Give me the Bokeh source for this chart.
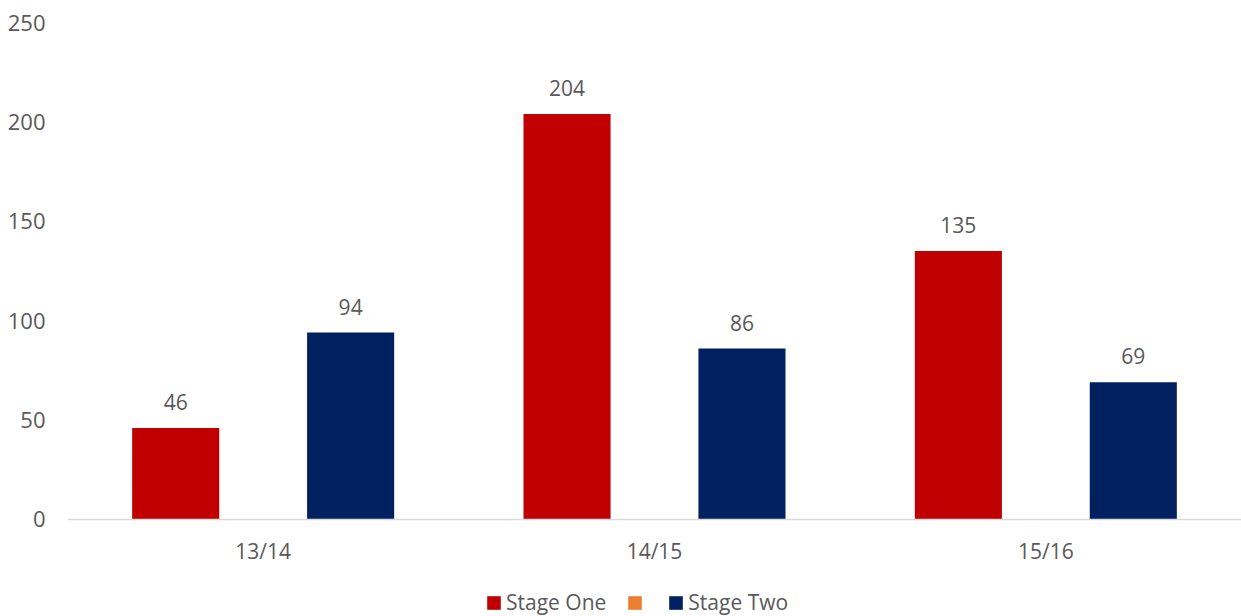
from bokeh.plotting import figure
from bokeh.models import ColumnDataSource, FactorRange, Range1d, Legend, LegendItem, SingleIntervalTicker
from bokeh.transform import dodge
from bokeh.core.properties import value
from bokeh.embed import file_html
from bokeh.resources import INLINE

categories = ["13/14", "14/15", "15/16"]
stage_one = [46, 204, 135]
stage_mid = [float("nan"), float("nan"), float("nan")]  # unnamed series with no values
stage_two = [94, 86, 69]
series_names = ["Stage One", " ", "Stage Two"]

RED = "#C00000"
ORANGE = "#ED7D31"
NAVY = "#002060"
TXT = "#595959"
FONT = "Open Sans"

src = ColumnDataSource(dict(cat=categories, one=stage_one, mid=stage_mid, two=stage_two,
                            one_lbl=[str(v) for v in stage_one],
                            two_lbl=[str(v) for v in stage_two]))

# frame runs to the bottom of the canvas; zero sits 97px above it (1.988 px per unit)
p = figure(width=1241, height=616,
           x_range=FactorRange(factors=categories, range_padding=0),
           y_range=Range1d(-48.8, 250), output_backend="svg", toolbar_location=None,
           min_border_left=67, min_border_right=0, min_border_top=22, min_border_bottom=0)
p.outline_line_color = None
p.grid.grid_line_color = None
p.background_fill_color = "white"

off = 0.2235
bw = 0.2225
r1 = p.vbar(x=dodge("cat", -off, range=p.x_range), top="one", width=bw, source=src,
            fill_color=RED, line_color=None)
r2 = p.vbar(x="cat", top="mid", width=bw, source=src, fill_color=ORANGE, line_color=None)
r3 = p.vbar(x=dodge("cat", off, range=p.x_range), top="two", width=bw, source=src,
            fill_color=NAVY, line_color=None)

for col, lbl, d in (("one", "one_lbl", -off), ("two", "two_lbl", off)):
    p.text(x=dodge("cat", d, range=p.x_range), y=col, text=lbl, source=src,
           text_align="center", text_baseline="bottom", y_offset=-18,
           text_font=value(FONT), text_font_size="21px", text_color=TXT)

p.yaxis.ticker = SingleIntervalTicker(interval=50)
p.yaxis.axis_line_color = None
p.yaxis.major_tick_line_color = None
p.yaxis.minor_tick_line_color = None
p.yaxis.major_label_standoff = 16
p.xaxis.fixed_location = 0
p.xaxis.axis_line_color = "#D9D9D9"
p.xaxis.axis_line_width = 1.5
p.xaxis.major_tick_line_color = None
p.xaxis.minor_tick_line_color = None
p.xaxis.major_label_standoff = 12
for ax in (p.xaxis, p.yaxis):
    ax.major_label_text_font = FONT
    ax.major_label_text_color = TXT
p.xaxis.major_label_text_font_size = "21px"
p.yaxis.major_label_text_font_size = "22px"

legend = Legend(items=[LegendItem(label=series_names[0], renderers=[r1]),
                       LegendItem(label=series_names[1], renderers=[r2]),
                       LegendItem(label=series_names[2], renderers=[r3])],
                orientation="horizontal", location=(418, 0),
                glyph_width=17, glyph_height=17, label_standoff=4, spacing=20,
                label_text_font=FONT, label_text_font_size="21px", label_text_color=TXT,
                border_line_color=None, background_fill_alpha=0, padding=0, margin=0,
                label_height=20, label_width=0)
p.add_layout(legend, "center")

open("out.html", "w").write(file_html(p, INLINE))
